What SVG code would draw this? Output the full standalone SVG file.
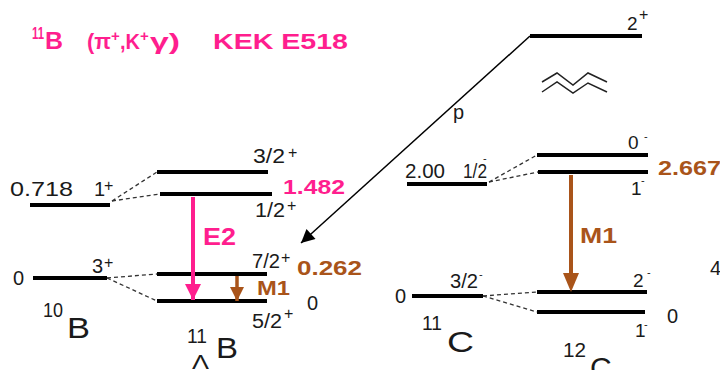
<svg xmlns="http://www.w3.org/2000/svg" width="720" height="370" viewBox="0 0 720 370" font-size="20">
<defs>
<style>
text{font-family:"Liberation Sans",Arial,sans-serif;fill:#1a1a1a}
.pk{fill:#ff1e8e;font-weight:bold}
.br{fill:#a9541a;font-weight:bold}
.sup{font-size:16px}
.mn{font-size:11px}
.lv{stroke:#000;stroke-width:4;fill:none}
.ds{stroke:#333;stroke-width:1.3;stroke-dasharray:4 3;fill:none}
.big{font-size:30px}
</style>
<marker id="ahP" viewBox="0 0 10 10" refX="10" refY="5" markerWidth="4" markerHeight="5" markerUnits="strokeWidth" orient="auto"><path d="M0,0 L10,5 L0,10 z" fill="#ff1e8e"/></marker>
<marker id="ahB" viewBox="0 0 10 10" refX="10" refY="5" markerWidth="4" markerHeight="4" markerUnits="strokeWidth" orient="auto"><path d="M0,0 L10,5 L0,10 z" fill="#a9541a"/></marker>
<marker id="ahK" viewBox="0 0 10 10" refX="10" refY="5" markerWidth="12" markerHeight="9" markerUnits="strokeWidth" orient="auto"><path d="M0,0 L10,5 L0,10 z" fill="#000"/></marker>
</defs>
<rect width="720" height="370" fill="#fff"/>

<g id="title">
<text class="pk" x="32" y="39" font-size="16" textLength="12" lengthAdjust="spacingAndGlyphs">11</text>
<text class="pk" x="45" y="49" font-size="23" textLength="18" lengthAdjust="spacingAndGlyphs">B</text>
<text class="pk" x="87" y="49" font-size="22" textLength="24" lengthAdjust="spacingAndGlyphs">(π</text>
<text class="pk" x="111" y="41" font-size="15">+</text>
<text class="pk" x="120" y="49" font-size="22" textLength="20" lengthAdjust="spacingAndGlyphs">,K</text>
<text class="pk" x="140" y="41" font-size="15">+</text>
<text class="pk" x="150" y="49" font-size="22" textLength="30" lengthAdjust="spacingAndGlyphs">γ)</text>
<text class="pk" x="213" y="49" font-size="22" textLength="135" lengthAdjust="spacingAndGlyphs">KEK E518</text>
</g>

<g id="B10">
<line class="lv" x1="30" y1="205" x2="110" y2="205"/>
<text x="10" y="196" textLength="63" lengthAdjust="spacingAndGlyphs">0.718</text>
<text x="94" y="196">1</text><text class="sup" x="104" y="191">+</text>
<line class="lv" x1="33" y1="278" x2="107" y2="278"/>
<text x="13" y="285">0</text>
<text x="92" y="273">3</text><text class="sup" x="104" y="268">+</text>
<text x="43" y="317" textLength="20" lengthAdjust="spacingAndGlyphs">10</text>
<text x="67" y="338" font-size="29" textLength="23" lengthAdjust="spacingAndGlyphs">B</text>
</g>

<g id="LB11">
<line class="lv" x1="157" y1="172" x2="268" y2="172"/>
<line class="lv" x1="160" y1="194" x2="272" y2="194"/>
<line class="lv" x1="157" y1="274" x2="267" y2="274"/>
<line class="lv" x1="157" y1="301" x2="267" y2="301"/>
<text x="253" y="163" textLength="32" lengthAdjust="spacingAndGlyphs">3/2</text><text class="sup" x="288" y="158">+</text>
<text x="255" y="217" textLength="30" lengthAdjust="spacingAndGlyphs">1/2</text><text class="sup" x="287" y="211">+</text>
<text class="pk" x="283" y="194" textLength="62" lengthAdjust="spacingAndGlyphs">1.482</text>
<text x="252" y="268" textLength="28" lengthAdjust="spacingAndGlyphs">7/2</text><text class="sup" x="281" y="263">+</text>
<text class="br" x="297" y="275" textLength="65" lengthAdjust="spacingAndGlyphs">0.262</text>
<text x="307" y="310">0</text>
<text x="252" y="328" textLength="30" lengthAdjust="spacingAndGlyphs">5/2</text><text class="sup" x="284" y="319">+</text>
<text x="187" y="343" textLength="20" lengthAdjust="spacingAndGlyphs">11</text>
<text x="216" y="358" font-size="29" textLength="22" lengthAdjust="spacingAndGlyphs">B</text>
<text x="192" y="369" textLength="17" lengthAdjust="spacingAndGlyphs">Λ</text>
</g>

<g id="C11">
<line class="lv" x1="407" y1="184" x2="487" y2="184"/>
<text x="405" y="178" font-size="21" textLength="40" lengthAdjust="spacingAndGlyphs">2.00</text>
<text x="463" y="178" font-size="21" textLength="24" lengthAdjust="spacingAndGlyphs">1/2</text>
<text class="mn" x="483" y="162">-</text>
<line class="lv" x1="412" y1="296" x2="483" y2="296"/>
<text x="395" y="303">0</text>
<text x="450" y="288" textLength="28" lengthAdjust="spacingAndGlyphs">3/2</text><text class="mn" x="479" y="278">-</text>
<text x="422" y="330" textLength="20" lengthAdjust="spacingAndGlyphs">11</text>
<text class="big" x="447" y="352" textLength="27" lengthAdjust="spacingAndGlyphs">C</text>
</g>

<g id="C12">
<line class="lv" x1="530" y1="36" x2="642" y2="36"/>
<text x="627" y="30" font-size="19">2</text><text class="sup" x="639" y="20">+</text>
<line class="lv" x1="537" y1="155" x2="648" y2="155"/>
<line class="lv" x1="538" y1="172" x2="648" y2="172"/>
<text x="628" y="149" font-size="19">0</text><text class="mn" x="644" y="140">-</text>
<text x="631" y="195" font-size="19">1</text><text class="mn" x="641" y="184">-</text>
<text class="br" x="658" y="175" textLength="63" lengthAdjust="spacingAndGlyphs">2.667</text>
<line class="lv" x1="537" y1="292" x2="647" y2="292"/>
<line class="lv" x1="537" y1="312" x2="645" y2="312"/>
<text x="633" y="287" font-size="19">2</text><text class="mn" x="647" y="276">-</text>
<text x="635" y="337" font-size="19">1</text><text class="mn" x="644" y="328">-</text>
<text x="667" y="323">0</text>
<text x="563" y="357" textLength="23" lengthAdjust="spacingAndGlyphs">12</text>
<text class="big" x="590" y="378">C</text>
<text x="710" y="275">4</text>
<polyline points="542,82 557,73 573,85 588,73 607,82" fill="none" stroke="#222" stroke-width="1.5"/>
<polyline points="542,92 557,82 573,93 588,83 607,92" fill="none" stroke="#222" stroke-width="1.5"/>
</g>

<g id="connectors">
<line class="ds" x1="112" y1="201" x2="157" y2="172"/>
<line class="ds" x1="112" y1="201" x2="160" y2="194"/>
<line class="ds" x1="107" y1="278" x2="157" y2="274"/>
<line class="ds" x1="107" y1="278" x2="157" y2="301"/>
<line class="ds" x1="489" y1="182" x2="537" y2="155"/>
<line class="ds" x1="489" y1="182" x2="538" y2="172"/>
<line class="ds" x1="483" y1="296" x2="537" y2="292"/>
<line class="ds" x1="483" y1="296" x2="537" y2="312"/>
<line x1="193" y1="197" x2="193" y2="300" stroke="#ff1e8e" stroke-width="4" marker-end="url(#ahP)"/>
<text class="pk" x="203" y="245" font-size="23" textLength="33" lengthAdjust="spacingAndGlyphs">E2</text>
<line x1="237" y1="276" x2="237" y2="301" stroke="#a9541a" stroke-width="3.5" marker-end="url(#ahB)"/>
<text class="br" x="257" y="295" font-size="21" textLength="33" lengthAdjust="spacingAndGlyphs">M1</text>
<line x1="571" y1="175" x2="571" y2="275" stroke="#a9541a" stroke-width="4"/>
<path d="M563,273 L579,273 L571,292 z" fill="#a9541a"/>
<text class="br" x="580" y="243" font-size="22" textLength="37" lengthAdjust="spacingAndGlyphs">M1</text>
<line x1="530" y1="36" x2="301" y2="243" stroke="#000" stroke-width="1.5" marker-end="url(#ahK)"/>
<text x="453" y="119">p</text>
</g>
</svg>
